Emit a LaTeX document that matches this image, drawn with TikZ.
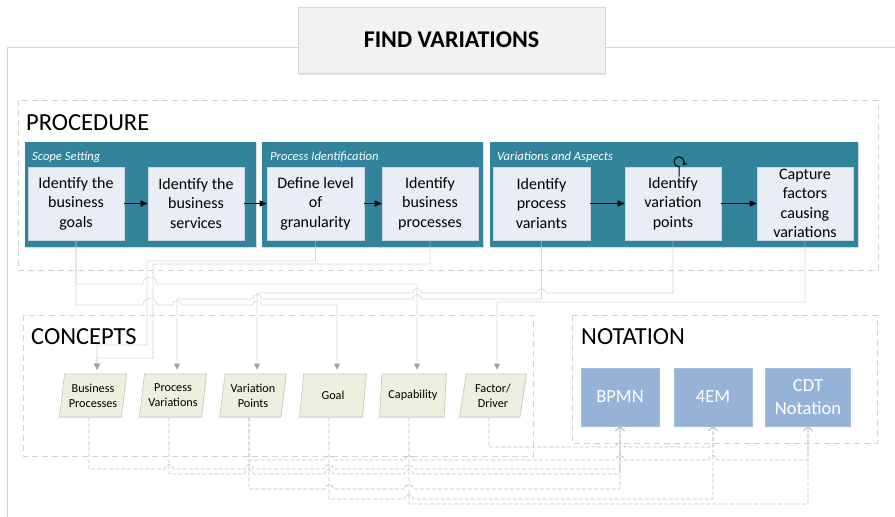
\documentclass[tikz,border=0pt]{standalone}
\usepackage{fontspec}
\setmainfont{Carlito}
\usetikzlibrary{arrows.meta,shapes.geometric,shadows}

\definecolor{tealpanel}{RGB}{49,132,155}
\definecolor{boxfill}{RGB}{233,237,245}
\definecolor{boxline}{RGB}{205,212,222}
\definecolor{conceptfill}{RGB}{235,241,222}
\definecolor{conceptline}{RGB}{196,198,192}
\definecolor{notefill}{RGB}{149,179,215}
\definecolor{titlefill}{RGB}{242,242,242}
\definecolor{titleline}{RGB}{215,215,215}
\definecolor{framegray}{RGB}{212,212,212}
\definecolor{uplinkgray}{RGB}{200,194,188}
\definecolor{uptipgray}{RGB}{170,164,158}
\definecolor{downgray}{RGB}{192,192,192}

\begin{document}
\begin{tikzpicture}[x=1pt,y=-1pt,
  frame/.style={draw=framegray, line width=0.8pt, dash pattern=on 6pt off 4pt},
  panel/.style={fill=tealpanel, draw=none, drop shadow={shadow xshift=0.8pt, shadow yshift=-1.2pt, opacity=0.3}},
  grouplabel/.style={anchor=west, inner sep=0pt, text=white, font=\fontsize{12.6}{15}\selectfont\itshape},
  heading/.style={anchor=west, inner sep=0pt, font=\fontsize{24.5}{28}\selectfont},
  stepbox/.style={fill=boxfill, draw=boxline, line width=0.6pt, minimum width=96pt, minimum height=73pt,
    inner sep=0pt, align=center, font=\fontsize{16}{19.5}\selectfont},
  concept/.style={trapezium, trapezium left angle=79.5, trapezium right angle=100.5, trapezium stretches=true,
    fill=conceptfill, draw=conceptline, line width=0.6pt, minimum width=67pt, minimum height=43pt,
    inner sep=0pt, align=center, font=\fontsize{12.2}{15}\selectfont,
    drop shadow={shadow xshift=0.6pt, shadow yshift=-0.8pt, opacity=0.12}},
  notebox/.style={fill=notefill, draw=notefill!85!white, line width=0.6pt, minimum width=78pt, minimum height=58pt,
    inner sep=0pt, text=white, align=center, font=\fontsize{18.5}{23}\selectfont,
    drop shadow={shadow xshift=0.6pt, shadow yshift=-0.8pt, opacity=0.2}},
  flow/.style={-{Triangle[length=7pt,width=6pt]}, line width=1pt, black},
  uplink/.style={draw=uplinkgray, line width=0.6pt, dash pattern=on 0.9pt off 0.7pt,
    -{Triangle[length=6pt,width=6pt,fill=uptipgray,color=uptipgray]}},
  downlink/.style={draw=downgray, line width=0.7pt, dash pattern=on 4pt off 2pt,
    -{Straight Barb[length=4pt,width=9pt]}},
]
\useasboundingbox (0,0) rectangle (895,517);

% outer frame of the sheet
\draw[framegray, line width=0.9pt] (7,517) -- (7,47) -- (298,47);
\draw[framegray, line width=0.9pt] (605,47) -- (895,47);

% title
\node[fill=titlefill, draw=titleline, line width=0.6pt, minimum width=307pt, minimum height=66pt,
  drop shadow={shadow xshift=1pt, shadow yshift=-1.5pt, opacity=0.2},
  font=\fontsize{24}{28}\selectfont\bfseries] (title) at (451.5,40) {FIND VARIATIONS};

% dashed regions
\draw[frame] (18,100) rectangle (878,270);
\draw[frame] (23,315) rectangle (533,456);
\draw[frame] (572,315) rectangle (877,443);

\node[heading] (hproc) at (26,123) {PROCEDURE};
\node[heading] (hconc) at (31,336.5) {CONCEPTS};
\node[heading] (hnote) at (581,336.5) {NOTATION};

% procedure phases
\fill[panel] (25,142) rectangle (256,247);
\fill[panel] (262,142) rectangle (483,247);
\fill[panel] (490,142) rectangle (858,247);
\node[grouplabel] (g1) at (32,157) {Scope Setting};
\node[grouplabel] (g2) at (270,157) {Process Identification};
\node[grouplabel] (g3) at (497,157) {Variations and Aspects};

% procedure steps
\node[stepbox] (b1) at (76,203.5) {Identify the\\business\\goals};
\node[stepbox] (b2) at (196,203.5) {Identify the\\business\\services};
\node[stepbox, minimum width=97pt] (b3) at (315.5,203.5) {Define level\\of\\granularity};
\node[stepbox] (b4) at (430,203.5) {Identify\\business\\processes};
\node[stepbox, minimum width=97pt] (b5) at (541.5,203.5) {Identify\\process\\variants};
\node[stepbox] (b6) at (673,203.5) {Identify\\variation\\points};
\node[stepbox] (b7) at (805,203.5) {Capture\\factors\\causing\\variations};

\draw[flow] (b1) -- (b2);
\draw[flow] (b2) -- (b3);
\draw[flow] (b3) -- (b4);
\draw[flow] (b5) -- (b6);
\draw[flow] (b6) -- (b7);
\draw[line width=1pt, -{Stealth[length=4.5pt,width=5pt]}]
  ([xshift=6pt,yshift=-10pt]b6.north) -- ([xshift=6pt]b6.north) arc[start angle=90, end angle=405, radius=5];

% concepts
\node[concept] (bp) at (93,395.5) {Business\\Processes};
\node[concept] (pv) at (173,395.5) {Process\\Variations};
\node[concept] (vp) at (253,395.5) {Variation\\Points};
\node[concept] (goal) at (333,395.5) {Goal};
\node[concept] (cap) at (413,395.5) {Capability};
\node[concept] (fd) at (493,395.5) {Factor/\\Driver};

% notations
\node[notebox] (bpmn) at (620,397) {BPMN};
\node[notebox] (em) at (713,397) {4EM};
\node[notebox, minimum width=85pt] (cdt) at (808,397) {CDT\\Notation};

% procedure steps -> concepts
\draw[uplink] (b1.south) -- (76,305) -- (143,305) arc[start angle=180, end angle=360, radius=7]
  -- (172.5,305) arc[start angle=180, end angle=360, radius=4.5]
  -- (252.5,305) arc[start angle=180, end angle=360, radius=4.5]
  -- (337,305) -- ([xshift=4pt,yshift=4pt]goal.north);
\draw[uplink] (b1.south) -- (76,284) -- (143,284) arc[start angle=180, end angle=360, radius=7]
  -- (417,284) -- ([xshift=4pt,yshift=4pt]cap.north);
\draw[uplink] (b3.south) -- (315.5,261) -- (147,261) -- (147,345) -- (97,345) -- ([xshift=4pt,yshift=4pt]bp.north);
\draw[uplink] (b4.south) -- (430,264) -- (153,264) -- (153,358) -- (97,358) -- ([xshift=4pt,yshift=4pt]bp.north);
\draw[uplink] (b5.south) -- (541.5,299) -- (421.5,299) arc[start angle=0, end angle=-180, radius=4.5]
  -- (261.5,299) arc[start angle=0, end angle=-180, radius=4.5]
  -- (177,299) -- ([xshift=4pt,yshift=4pt]pv.north);
\draw[uplink] (b6.south) -- (673,293) -- (546,293) arc[start angle=0, end angle=-180, radius=4.5]
  -- (421.5,293) arc[start angle=0, end angle=-180, radius=4.5]
  -- (257,293) -- ([xshift=4pt,yshift=4pt]vp.north);
\draw[uplink] (b7.south) -- (805,302) -- (497,302) -- ([xshift=4pt,yshift=4pt]fd.north);

% concepts -> notations
\draw[downlink] ([xshift=-4pt]bp.south) -- (89,469)
  -- (164.5,469) arc[start angle=180, end angle=360, radius=4.5]
  -- (244.5,469) arc[start angle=180, end angle=360, radius=4.5]
  -- (324.5,469) arc[start angle=180, end angle=360, radius=4.5]
  -- (404.5,469) arc[start angle=180, end angle=360, radius=4.5]
  -- (620,469) -- (bpmn.south);
\draw[downlink] ([xshift=-4pt]pv.south) -- (169,474)
  -- (244.5,474) arc[start angle=180, end angle=360, radius=4.5]
  -- (324.5,474) arc[start angle=180, end angle=360, radius=4.5]
  -- (404.5,474) arc[start angle=180, end angle=360, radius=4.5]
  -- (620,474) -- (bpmn.south);
\draw[downlink] ([xshift=-4pt]vp.south) -- (249,489)
  -- (324.5,489) arc[start angle=180, end angle=360, radius=4.5]
  -- (404.5,489) arc[start angle=180, end angle=360, radius=4.5]
  -- (620,489) -- (bpmn.south);
\draw[downlink] ([xshift=-4pt]vp.south) -- (249,460)
  -- (324.5,460) arc[start angle=180, end angle=360, radius=4.5]
  -- (404.5,460) arc[start angle=180, end angle=360, radius=4.5]
  -- (615.5,460) arc[start angle=180, end angle=360, radius=4.5]
  -- (708.5,460) arc[start angle=180, end angle=360, radius=4.5]
  -- (808,460) -- (cdt.south);
\draw[downlink] ([xshift=-4pt]goal.south) -- (329,499)
  -- (404.5,499) arc[start angle=180, end angle=360, radius=4.5]
  -- (713,499) -- (em.south);
\draw[downlink] ([xshift=-4pt]cap.south) -- (409,504) -- (808,504) -- (cdt.south);
\draw[downlink] ([xshift=-4pt]fd.south) -- (489,447)
  -- (615.5,447) arc[start angle=180, end angle=360, radius=4.5]
  -- (713,447) -- (em.south);
\end{tikzpicture}
\end{document}
